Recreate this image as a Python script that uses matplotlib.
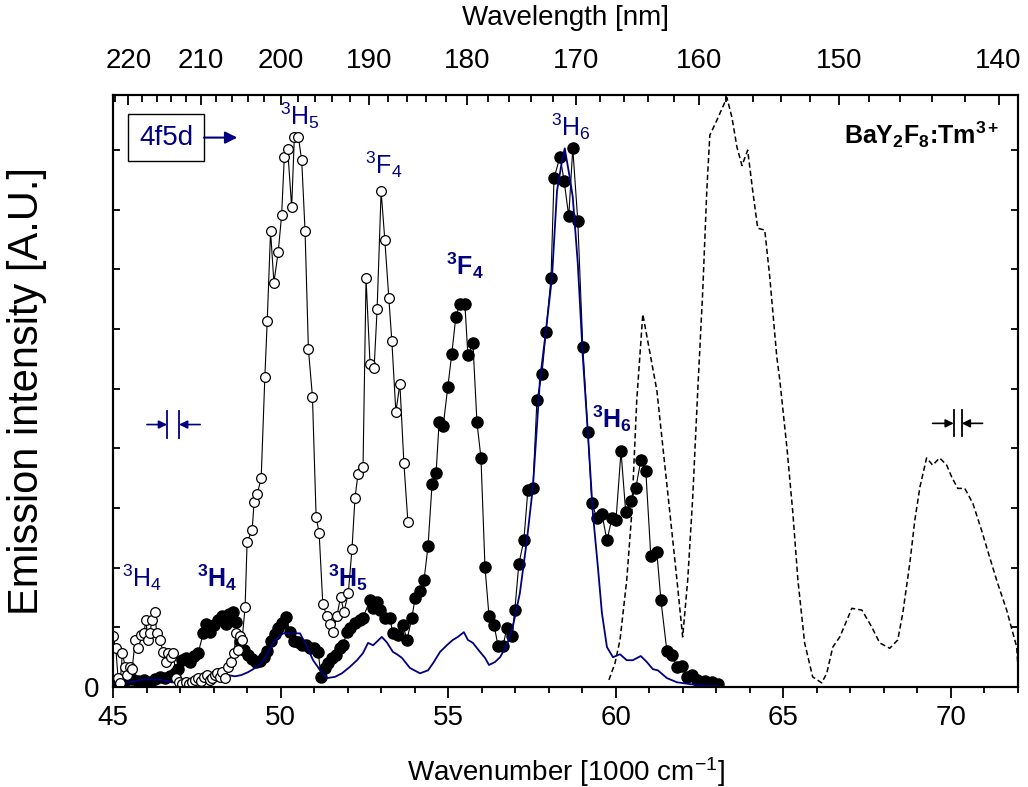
"""
BaY2F8:Tm3+ VUV emission spectra vs wavenumber, with wavelength on the top axis.
"""

import numpy as np
import matplotlib
matplotlib.use("Agg")
import matplotlib.pyplot as plt

NAVY = "#000080"

# open circles (thin black line)
open_x = [45.00, 45.08, 45.15, 45.21, 45.28, 45.36, 45.42, 45.51, 45.57, 45.66,
          45.75, 45.84, 45.92, 45.98, 46.04, 46.10, 46.16, 46.25, 46.30, 46.40,
          46.49, 46.58, 46.64, 46.73, 46.80, 46.88, 46.97, 47.07, 47.18, 47.27,
          47.36, 47.45, 47.54, 47.63, 47.72, 47.80, 47.88, 47.95, 48.04, 48.10,
          48.19, 48.25, 48.34, 48.43, 48.52, 48.61, 48.67, 48.73, 48.79, 48.85,
          48.94, 49.00, 49.15, 49.21, 49.30, 49.42, 49.53, 49.60, 49.70, 49.80,
          49.93, 50.03, 50.11, 50.21, 50.33, 50.41, 50.53, 50.63, 50.73, 50.83,
          50.95, 51.06, 51.15, 51.26, 51.38, 51.47, 51.56, 51.68, 51.79, 51.89,
          52.02, 52.13, 52.22, 52.31, 52.46, 52.55, 52.67, 52.79, 52.88, 53.00,
          53.11, 53.23, 53.32, 53.44, 53.56, 53.68, 53.80]
open_y = [0.85, 0.65, 0.15, 0.07, 0.57, 0.34, 0.20, 0.34, 0.30, 0.79,
          0.65, 0.87, 0.90, 1.12, 0.79, 0.90, 1.12, 1.26, 0.90, 0.79,
          0.59, 0.42, 0.57, 0.50, 0.57, 0.15, 0.08, 0.05, 0.08, 0.05,
          0.08, 0.12, 0.15, 0.10, 0.17, 0.20, 0.12, 0.15, 0.20, 0.23,
          0.17, 0.25, 0.15, 0.34, 0.42, 0.57, 0.90, 0.62, 0.85, 0.79,
          1.34, 2.43, 2.63, 3.10, 3.23, 3.50, 5.20, 6.13, 7.64, 6.78,
          7.30, 7.91, 8.88, 9.02, 8.04, 9.22, 9.22, 8.83, 7.64, 5.66,
          4.87, 2.85, 2.58, 1.39, 1.19, 1.06, 0.92, 1.19, 1.51, 1.26,
          1.57, 2.31, 3.17, 3.57, 3.69, 6.85, 5.41, 5.34, 6.33, 8.31,
          7.50, 6.52, 5.80, 4.61, 5.08, 3.75, 2.76]

# filled circles
fill_x = [45.06, 45.21, 45.39, 45.57, 45.75, 45.92, 46.10, 46.25, 46.40, 46.55,
          46.70, 46.85, 46.94, 47.06, 47.18, 47.30, 47.42, 47.54, 47.69, 47.77,
          47.89, 48.01, 48.13, 48.25, 48.37, 48.46, 48.58, 48.67, 48.79, 48.91,
          49.03, 49.15, 49.27, 49.39, 49.50, 49.59, 49.71, 49.83, 49.92, 50.04,
          50.16, 50.28, 50.40, 50.52, 50.64, 50.76, 50.88, 51.00, 51.12, 51.21,
          51.32, 51.41, 51.53, 51.65, 51.77, 51.86, 51.98, 52.07, 52.22, 52.37,
          52.46, 52.67, 52.76, 52.88, 52.97, 53.11, 53.26, 53.35, 53.50, 53.65,
          53.77, 53.92, 54.01, 54.16, 54.28, 54.40, 54.52, 54.64, 54.73, 54.85,
          54.99, 55.11, 55.23, 55.35, 55.50, 55.59, 55.74, 55.86, 55.98, 56.10,
          56.22, 56.37, 56.49, 56.64, 56.75, 56.90, 56.99, 57.11, 57.26, 57.38,
          57.53, 57.65, 57.80, 57.92, 58.07, 58.16, 58.34, 58.46, 58.60, 58.72,
          58.87, 59.02, 59.17, 59.29, 59.44, 59.59, 59.74, 59.89, 60.01, 60.16,
          60.30, 60.45, 60.60, 60.75, 60.90, 61.05, 61.23, 61.35, 61.53, 61.68,
          61.83, 61.98, 62.12, 62.27, 62.42, 62.66, 62.87, 63.05]
fill_y = [0.07, 0.10, 0.12, 0.13, 0.10, 0.12, 0.08, 0.13, 0.17, 0.15,
          0.18, 0.23, 0.30, 0.45, 0.49, 0.42, 0.52, 0.57, 0.90, 1.06,
          0.92, 1.04, 1.12, 1.19, 1.06, 1.22, 1.26, 1.09, 0.77, 0.62,
          0.54, 0.47, 0.42, 0.44, 0.50, 0.60, 0.77, 0.89, 0.99, 1.07,
          1.17, 0.92, 0.77, 0.75, 0.70, 0.70, 0.65, 0.65, 0.59, 0.17,
          0.32, 0.40, 0.49, 0.54, 0.65, 0.70, 0.92, 0.99, 1.07, 1.12,
          1.16, 1.46, 1.32, 1.42, 1.29, 1.16, 1.16, 0.90, 0.87, 1.04,
          0.79, 1.16, 1.49, 1.61, 1.79, 2.36, 3.40, 3.58, 4.44, 4.37,
          5.03, 5.59, 6.21, 6.42, 6.42, 5.56, 5.76, 4.44, 3.84, 2.01,
          1.19, 1.04, 0.69, 0.69, 0.99, 0.85, 1.29, 2.06, 2.46, 3.30,
          3.33, 4.81, 5.24, 5.95, 6.85, 8.53, 8.89, 8.49, 7.89, 9.03,
          7.81, 5.70, 4.27, 3.08, 2.83, 2.90, 2.46, 2.83, 2.80, 3.95,
          2.93, 3.12, 3.33, 3.80, 3.62, 2.19, 2.26, 1.46, 0.60, 0.54,
          0.34, 0.35, 0.17, 0.20, 0.12, 0.10, 0.08, 0.05]

# solid navy line
blue_x = [45.00, 45.15, 45.45, 45.84, 46.13, 46.43, 46.73, 47.03, 47.33, 47.63,
          47.83, 48.13, 48.43, 48.64, 48.82, 49.03, 49.24, 49.42, 49.62, 49.77,
          49.92, 50.07, 50.34, 50.58, 50.79, 50.97, 51.18, 51.38, 51.62, 51.83,
          52.07, 52.28, 52.46, 52.61, 52.76, 53.02, 53.17, 53.35, 53.47, 53.62,
          53.86, 54.16, 54.40, 54.55, 54.76, 54.96, 55.14, 55.29, 55.47, 55.59,
          55.74, 55.95, 56.10, 56.22, 56.40, 56.55, 56.75, 56.93, 57.14, 57.35,
          57.53, 57.74, 57.92, 58.10, 58.25, 58.39, 58.48, 58.63, 58.72, 58.87,
          59.02, 59.17, 59.32, 59.47, 59.59, 59.74, 59.92, 60.13, 60.33, 60.51,
          60.75, 60.93, 61.11, 61.26, 61.53, 61.83, 62.21, 62.51, 63.05]
blue_y = [0.07, 0.07, 0.08, 0.12, 0.13, 0.12, 0.08, 0.07, 0.05, 0.08,
          0.12, 0.15, 0.20, 0.18, 0.20, 0.25, 0.32, 0.40, 0.57, 0.74,
          0.82, 0.90, 0.90, 0.90, 0.67, 0.45, 0.28, 0.15, 0.17, 0.23,
          0.34, 0.45, 0.57, 0.74, 0.70, 0.84, 0.75, 0.59, 0.55, 0.49,
          0.32, 0.23, 0.28, 0.40, 0.59, 0.70, 0.79, 0.84, 0.92, 0.79,
          0.74, 0.59, 0.49, 0.37, 0.42, 0.50, 0.70, 1.01, 1.57, 2.46,
          3.35, 5.14, 5.98, 6.87, 8.32, 8.79, 9.03, 8.54, 8.21, 7.10,
          5.53, 4.27, 2.91, 2.01, 1.24, 0.67, 0.50, 0.55, 0.45, 0.45,
          0.52, 0.42, 0.30, 0.28, 0.15, 0.08, 0.05, 0.03, 0.02]

# dashed black line
dash_x = [59.80, 59.98, 60.13, 60.33, 60.48, 60.63, 60.81, 61.23, 61.41, 61.62,
          61.83, 62.00, 62.15, 62.30, 62.45, 62.60, 62.72, 62.81, 63.02, 63.32,
          63.47, 63.62, 63.77, 63.94, 64.09, 64.24, 64.45, 64.60, 64.81, 64.90,
          65.11, 65.29, 65.44, 65.64, 65.88, 66.15, 66.30, 66.48, 66.69, 66.90,
          67.05, 67.35, 67.64, 67.88, 68.18, 68.42, 68.57, 68.78, 68.93, 69.08,
          69.28, 69.46, 69.67, 69.88, 70.03, 70.21, 70.42, 70.66, 70.92, 71.16,
          71.40, 71.67, 71.97, 72.00]
dash_y = [0.12, 0.40, 0.79, 1.79, 2.91, 4.81, 6.25, 4.97, 4.02, 2.91,
          1.79, 0.84, 1.79, 3.18, 4.97, 6.65, 8.32, 9.25, 9.50, 9.88,
          9.55, 9.05, 8.74, 9.00, 8.32, 7.69, 7.66, 6.87, 5.53, 5.14,
          4.02, 2.91, 1.79, 0.74, 0.17, 0.07, 0.23, 0.67, 0.84, 1.12,
          1.32, 1.29, 1.01, 0.74, 0.65, 0.79, 1.24, 2.08, 2.80, 3.35,
          3.84, 3.72, 3.84, 3.72, 3.52, 3.33, 3.33, 3.08, 2.63, 2.18,
          1.74, 1.29, 0.67, 0.40]

# top axis (wavelength, nm)
nm_major = [220, 210, 200, 190, 180, 170, 160, 150, 140]
nm_minor = list(range(140, 224, 2))

plt.rcParams.update({
    "font.family": "Liberation Sans",
    "font.size": 20,
    "mathtext.fontset": "custom",
    "mathtext.rm": "Liberation Sans",
    "mathtext.it": "Liberation Sans:italic",
    "mathtext.bf": "Liberation Sans:bold",
    "axes.linewidth": 1.5,
})

fig, ax = plt.subplots(figsize=(10.28, 7.87), dpi=100)
fig.subplots_adjust(left=0.110, right=0.990, top=0.879, bottom=0.127)

ax.plot(fill_x, fill_y, "-", color="black", lw=0.8, marker="o", ms=8,
        mfc="black", mec="black", zorder=2)
ax.plot(dash_x, dash_y, color="black", lw=1.1, ls=(0, (3.5, 2)), zorder=3)
ax.plot(blue_x, blue_y, color=NAVY, lw=1.3, zorder=4)
ax.plot(open_x, open_y, "-", color="black", lw=0.8, marker="o", ms=7,
        mfc="white", mec="black", mew=0.9, zorder=5)

ax.set_xlim(45, 72)
ax.set_ylim(0, 9.92)
ax.set_xticks(np.arange(45, 71, 5))
ax.set_xticks(np.arange(45, 73, 1), minor=True)
ax.set_yticks(np.arange(0, 10, 1))
ax.set_yticklabels(["0"] + [""] * 9)
ax.tick_params(axis="x", which="major", direction="out", length=8, width=1.3,
               top=False, pad=5)
ax.tick_params(axis="x", which="minor", direction="out", length=4.5, width=1.3,
               top=False)
ax.tick_params(axis="y", which="major", direction="in", length=5, width=1.3,
               left=True, right=True, pad=10)

ax.set_xlabel(r"Wavenumber [1000 cm$^{-1}$]")
ax.xaxis.set_label_coords(0.5, -0.115)
ax.set_ylabel("Emission intensity [A.U.]", fontsize=30)
ax.yaxis.set_label_coords(-0.073, 0.5)

ax2 = ax.twiny()
ax2.set_xlim(ax.get_xlim())
ax2.set_xticks([1e4 / w for w in nm_major])
ax2.set_xticklabels([str(w) for w in nm_major])
ax2.set_xticks([1e4 / w for w in nm_minor if 45 <= 1e4 / w <= 72], minor=True)
ax2.tick_params(axis="x", which="major", direction="in", length=7, width=1.3, pad=15)
ax2.tick_params(axis="x", which="minor", direction="in", length=5, width=1.3)
ax2.set_xlabel("Wavelength [nm]")
ax2.xaxis.set_label_coords(0.5, 1.118)

# term labels
lab = dict(color=NAVY, ha="center", va="center", fontsize=18)
ax.text(50.58, 9.58, r"$\mathrm{^3H_5}$", **lab)
ax.text(53.08, 8.76, r"$\mathrm{^3F_4}$", **lab)
ax.text(58.66, 9.40, r"$\mathrm{^3H_6}$", **lab)
ax.text(45.87, 1.83, r"$\mathrm{^3H_4}$", **lab)
ax.text(48.10, 1.83, r"$\mathbf{^3H_4}$", **lab)
ax.text(52.01, 1.83, r"$\mathbf{^3H_5}$", **lab)
ax.text(55.50, 7.07, r"$\mathbf{^3F_4}$", **lab)
ax.text(59.89, 4.49, r"$\mathbf{^3H_6}$", **lab)

ax.text(71.46, 9.25, r"BaY$_\mathbf{2}$F$_\mathbf{8}$:Tm$^\mathbf{3+}$",
        ha="right", va="center", fontsize=18, fontweight="bold", color="black")

# 4f5d box and arrow
ax.text(46.58, 9.21, "4f5d", color=NAVY, ha="center", va="center", fontsize=20,
        bbox=dict(boxstyle="square,pad=0.38", fc="white", ec="black", lw=1))
ax.annotate("", xy=(48.79, 9.21), xytext=(47.63, 9.21),
            arrowprops=dict(arrowstyle="-|>", color=NAVY, lw=1.5,
                            mutation_scale=18))

# resolution markers
def res_marker(x0, b1, b2, x1, y, color):
    ax.annotate("", xy=(b1, y), xytext=(x0, y),
                arrowprops=dict(arrowstyle="-|>", color=color, lw=1.2, mutation_scale=12,
                                shrinkA=0, shrinkB=0))
    ax.annotate("", xy=(b2, y), xytext=(x1, y),
                arrowprops=dict(arrowstyle="-|>", color=color, lw=1.2, mutation_scale=12,
                                shrinkA=0, shrinkB=0))
    ax.plot([b1, b1], [y - 0.22, y + 0.22], color=color, lw=1.3)
    ax.plot([b2, b2], [y - 0.22, y + 0.22], color=color, lw=1.3)

res_marker(46.01, 46.61, 46.97, 47.60, 4.40, NAVY)
res_marker(69.46, 70.09, 70.33, 70.95, 4.42, "black")

fig.savefig("out.png")
